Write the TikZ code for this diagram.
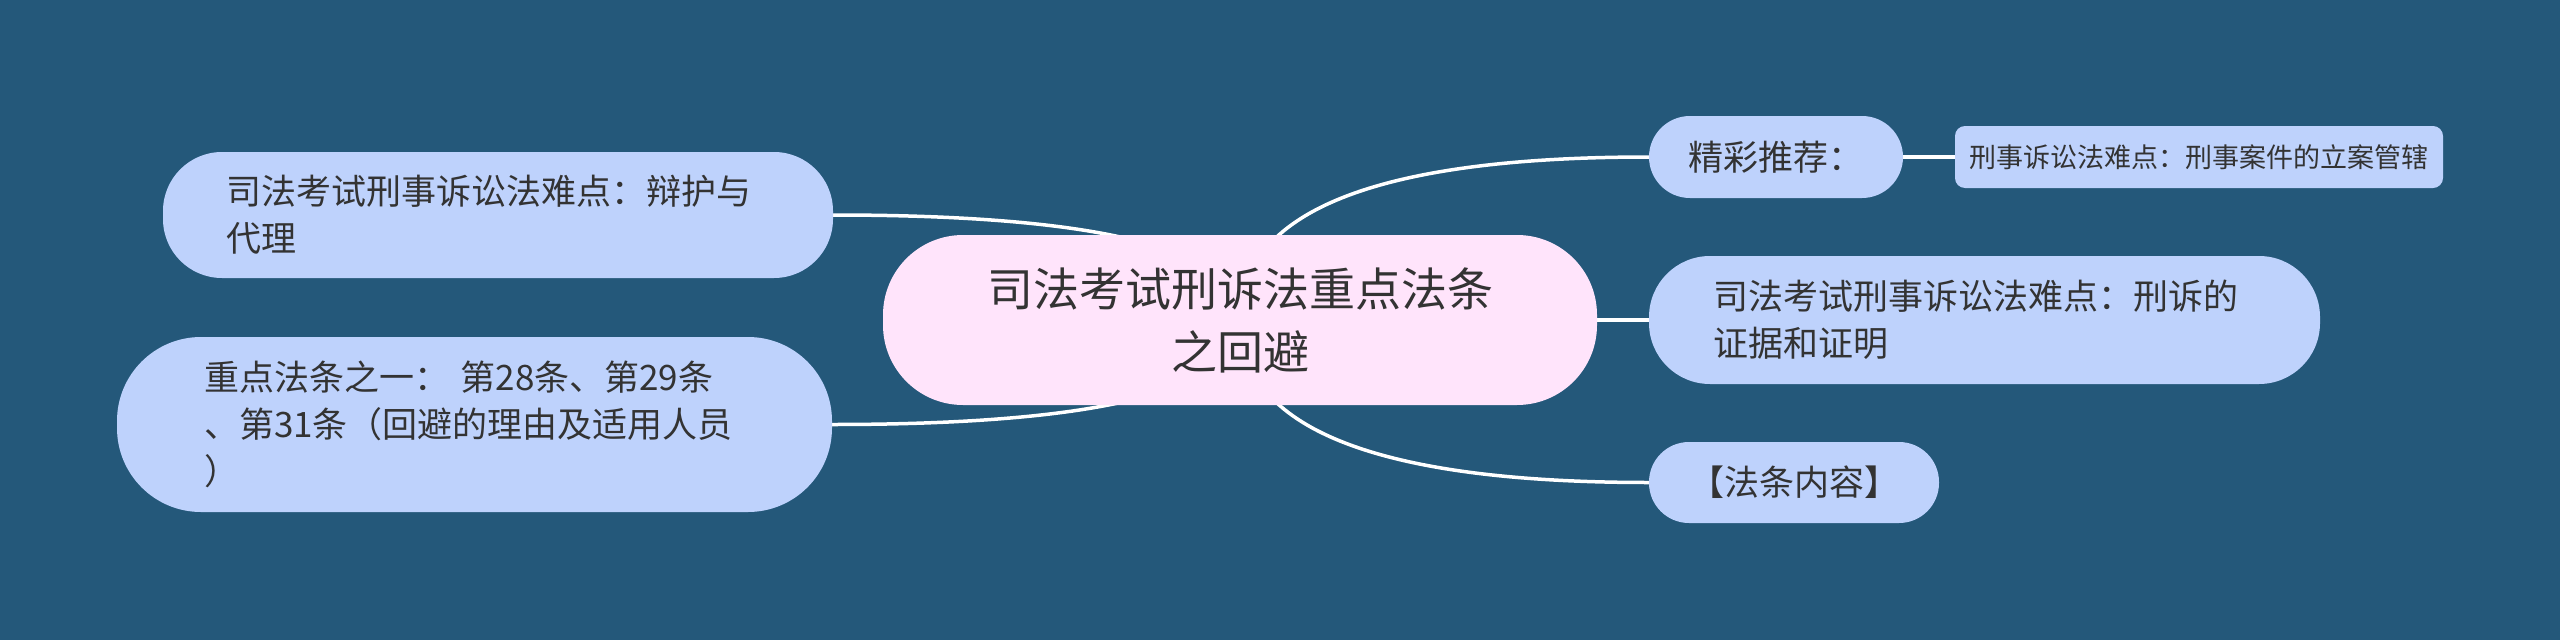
\documentclass[tikz,border=0pt]{standalone}
\usepackage{fontspec}
\setmainfont{Noto Sans CJK SC}
\usetikzlibrary{calc}
\pgfdeclarelayer{bg}
\pgfdeclarelayer{edges}
\pgfsetlayers{bg,edges,main}
\definecolor{bgc}{HTML}{24587A}
\definecolor{nodeblue}{HTML}{BED2FC}
\definecolor{rootpink}{HTML}{FFE4FB}
\definecolor{txt}{HTML}{333333}
\tikzset{
  box/.style={fill=nodeblue, text=txt, inner ysep=0pt, outer sep=0pt, font=\fontsize{35}{47}\selectfont},
  rootbox/.style={fill=rootpink, text=txt, align=center, inner ysep=0pt, outer sep=0pt, font=\fontsize{46}{63}\selectfont},
  link/.style={draw=white, line width=3.5pt}
}
\begin{document}
\begin{tikzpicture}[x=1pt,y=-1pt]
\begin{pgfonlayer}{bg}
\fill[bgc] (0,0) rectangle (2560,640);
\end{pgfonlayer}
\useasboundingbox (0,0) rectangle (2560,640);

\node[rootbox, rounded corners=80pt, minimum width=714pt, minimum height=170pt] (c) at (1240,320) {司法考试刑诉法重点法条\\之回避};

\node[box, rounded corners=59pt, minimum height=126pt, text width=544pt, inner xsep=63pt, align=left] (l1) at (498,215) {司法考试刑事诉讼法难点：辩护与\\代理};
\node[box, rounded corners=84pt, minimum height=175pt, text width=541pt, inner xsep=87pt, align=left] (l2) at (474.5,424.5) {重点法条之一： 第28条、第29条\\、第31条（回避的理由及适用人员\\）};

\node[box, rounded corners=41pt, minimum height=82pt, minimum width=254pt, align=center] (r1) at (1776,157) {精彩推荐：};
\node[box, rounded corners=10pt, minimum height=62pt, minimum width=488pt, align=center, font=\fontsize{27}{34}\selectfont] (r1a) at (2199,157) {刑事诉讼法难点：刑事案件的立案管辖};
\node[box, rounded corners=61pt, minimum height=128pt, text width=543pt, inner xsep=64pt, align=left] (r2) at (1984.5,320) {司法考试刑事诉讼法难点：刑诉的\\证据和证明};
\node[box, rounded corners=40pt, minimum height=81pt, minimum width=290pt, align=center] (r3) at (1794,482.5) {【法条内容】};

\coordinate (k1) at (c.center|-l1.east);
\coordinate (k2) at (c.center|-l2.east);
\coordinate (k3) at (c.center|-r1.west);
\coordinate (k4) at (c.center|-r3.west);
\begin{pgfonlayer}{edges}
\draw[link] (c.center) .. controls ($(c.center)!0.6667!(k1)$) and ($(l1.east)!0.6667!(k1)$) .. (l1.east);
\draw[link] (c.center) .. controls ($(c.center)!0.6667!(k2)$) and ($(l2.east)!0.6667!(k2)$) .. (l2.east);
\draw[link] (c.center) .. controls ($(c.center)!0.6667!(k3)$) and ($(r1.west)!0.6667!(k3)$) .. (r1.west);
\draw[link] (c.center) .. controls ($(c.center)!0.6667!(k4)$) and ($(r3.west)!0.6667!(k4)$) .. (r3.west);
\draw[link] (c.center) -- (r2.west);
\draw[link] (r1.east) -- (r1a.west);
\end{pgfonlayer}
\end{tikzpicture}
\end{document}
